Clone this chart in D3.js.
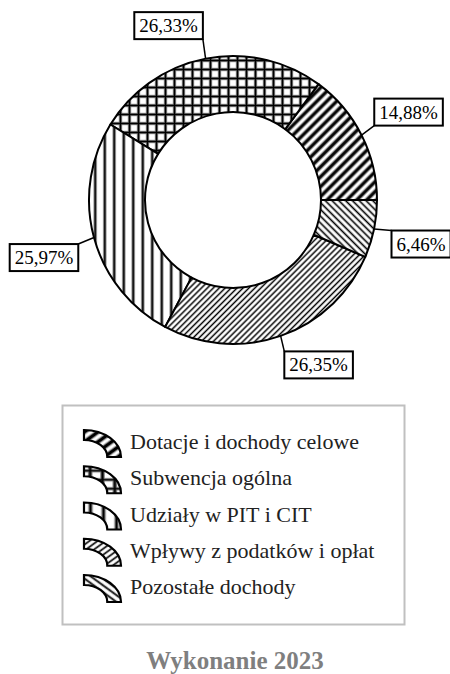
<!DOCTYPE html>
<html>
<head>
<meta charset="UTF-8">
<title>Wykonanie 2023</title>
<style>
body {
  margin: 0;
  background: #fff;
}
text {
  font-family: "Liberation Serif", "Times New Roman", serif;
}
</style>
</head>
<body>
<script src="https://cdn.jsdelivr.net/npm/d3@7/dist/d3.min.js"></script>
<script>
// data, in legend order (pie runs counter-clockwise from 3 o'clock)
var categories = ["Dotacje i dochody celowe", "Subwencja ogólna", "Udziały w PIT i CIT",
                  "Wpływy z podatków i opłat", "Pozostałe dochody"];
var shares = [14.88, 26.33, 25.97, 26.35, 6.46];
var patternIds = ["p-dot", "p-sub", "p-udz", "p-wpl", "p-poz"];
var title = "Wykonanie 2023";

// where each label box sits, relative to the slice's outer mid point
var labelShift = [[47, -23], [-37, -33], [-50, 20], [38, 29], [47, 15]];

var width = 450, height = 674;
var cx = 233, cy = 200, rOuter = 144, rInner = 88;

var pl = d3.formatLocale({decimal: ",", thousands: " ", grouping: [3], currency: ["", " zł"]});
var fmt = pl.format(".2f");

var svg = d3.select("body").append("svg")
  .attr("width", width)
  .attr("height", height)
  .attr("font-family", "'Liberation Serif', 'Times New Roman', serif");

var defs = svg.append("defs");

// striped fill; soft gray halo under a black core looks like the blurry original
var stripes = function(id, period, angle, core, halo) {
  var p = defs.append("pattern")
    .attr("id", id)
    .attr("patternUnits", "userSpaceOnUse")
    .attr("width", period)
    .attr("height", period)
    .attr("patternTransform", "rotate(" + angle + ")");
  p.append("rect").attr("width", period).attr("height", period).attr("fill", "#fff");
  p.append("line").attr("x1", period / 2).attr("x2", period / 2)
    .attr("y1", -1).attr("y2", period + 1)
    .attr("stroke", "#8a8a8a").attr("stroke-width", halo);
  p.append("line").attr("x1", period / 2).attr("x2", period / 2)
    .attr("y1", -1).attr("y2", period + 1)
    .attr("stroke", "#000").attr("stroke-width", core);
};
stripes("p-dot", 7, 45, 2.6, 4.4);
stripes("p-wpl", 4.2, 45, 1.0, 2.0);
stripes("p-poz", 4.8, -45, 1.1, 2.2);
stripes("p-udz", 9.5, 0, 1.6, 3.4);

// grid for Subwencja
var g9 = 9;
var grid = defs.append("pattern")
  .attr("id", "p-sub")
  .attr("patternUnits", "userSpaceOnUse")
  .attr("width", g9)
  .attr("height", g9);
grid.append("rect").attr("width", g9).attr("height", g9).attr("fill", "#fff");
[["#8a8a8a", 3.4], ["#000", 1.6]].forEach(function(s) {
  grid.append("line").attr("x1", g9 / 2).attr("x2", g9 / 2).attr("y1", -1).attr("y2", g9 + 1)
    .attr("stroke", s[0]).attr("stroke-width", s[1]);
  grid.append("line").attr("y1", g9 / 2).attr("y2", g9 / 2).attr("x1", -1).attr("x2", g9 + 1)
    .attr("stroke", s[0]).attr("stroke-width", s[1]);
});

var pie = d3.pie()
  .sort(null)
  .startAngle(Math.PI / 2)
  .endAngle(Math.PI / 2 - 2 * Math.PI);

var arcs = pie(shares);

var arc = d3.arc()
  .innerRadius(rInner)
  .outerRadius(rOuter);

var chart = svg.append("g")
  .attr("transform", "translate(" + cx + "," + cy + ")");

chart.selectAll("path.slice")
  .data(arcs)
  .enter().append("path")
  .attr("class", "slice")
  .attr("d", arc)
  .attr("fill", function(d, i) { return "url(#" + patternIds[i] + ")"; })
  .attr("stroke", "#000")
  .attr("stroke-width", 2)
  .attr("stroke-linejoin", "round");

// data labels with leader lines
var boxH = 27, padX = 5;
arcs.forEach(function(d, i) {
  var mid = (d.startAngle + d.endAngle) / 2;
  var px = rOuter * Math.sin(mid), py = -rOuter * Math.cos(mid);
  var bx = px + labelShift[i][0], by = py + labelShift[i][1];

  var lab = chart.append("g");
  var line = lab.append("line");
  var rect = lab.append("rect");
  var t = lab.append("text")
    .attr("x", bx)
    .attr("y", by + 6.5)
    .attr("text-anchor", "middle")
    .attr("font-size", "19px")
    .attr("fill", "#000")
    .text(fmt(shares[i]) + "%");
  var w = t.node().getComputedTextLength() + 2 * padX;
  var x0 = bx - w / 2, y0 = by - boxH / 2;
  rect.attr("x", x0).attr("y", y0)
    .attr("width", w).attr("height", boxH)
    .attr("fill", "#fff").attr("stroke", "#000").attr("stroke-width", 2);
  // nearest point of the box to the slice
  var ex = Math.max(x0, Math.min(px, x0 + w));
  var ey = Math.max(y0, Math.min(py, y0 + boxH));
  line.attr("x1", px).attr("y1", py).attr("x2", ex).attr("y2", ey)
    .attr("stroke", "#000").attr("stroke-width", 1.5);
});

// legend
var legend = svg.append("g");
legend.append("rect")
  .attr("x", 62.5).attr("y", 405.5)
  .attr("width", 342).attr("height", 219)
  .attr("fill", "none")
  .attr("stroke", "#c0c0c0")
  .attr("stroke-width", 2);

var iconArc = d3.arc()
  .innerRadius(17)
  .outerRadius(27)
  .startAngle(0)
  .endAngle(Math.PI / 2);

var rowY = d3.scalePoint()
  .domain(categories)
  .range([449, 594]);

var rows = legend.selectAll("g.row")
  .data(categories)
  .enter().append("g")
  .attr("class", "row");

rows.append("path")
  .attr("transform", function(d) { return "translate(84," + (rowY(d) + 8) + ") scale(1.37,1)"; })
  .attr("d", iconArc)
  .attr("fill", function(d, i) { return "url(#" + patternIds[i] + ")"; })
  .attr("stroke", "#000")
  .attr("stroke-width", 2.2)
  .attr("vector-effect", "non-scaling-stroke");

rows.append("text")
  .attr("x", 130)
  .attr("y", function(d) { return rowY(d); })
  .attr("font-size", "22px")
  .attr("fill", "#222")
  .text(function(d) { return d; });

// title
svg.append("text")
  .attr("x", 235)
  .attr("y", 669)
  .attr("text-anchor", "middle")
  .attr("font-size", "25px")
  .attr("font-weight", "bold")
  .attr("fill", "#7f7f7f")
  .text(title);
</script>
</body>
</html>
